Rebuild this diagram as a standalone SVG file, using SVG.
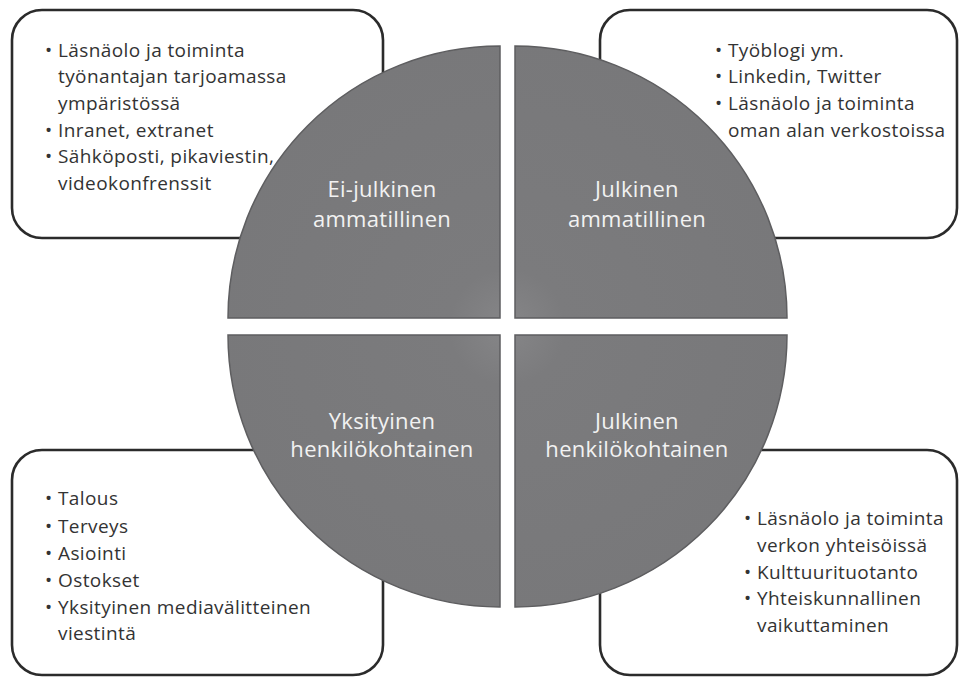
<svg xmlns="http://www.w3.org/2000/svg" width="960" height="677" viewBox="0 0 960 677">
<defs>
<style>
.box{fill:#ffffff;stroke:#2b2b2b;stroke-width:2.6}
.quad{fill:url(#qg);stroke:#5e5e60;stroke-width:1.5}
.item{font-family:"Open Sans","Noto Sans",sans-serif;font-size:19px;letter-spacing:0.4px;fill:#333333}
.lab{font-family:"Open Sans","Noto Sans",sans-serif;font-size:22px;letter-spacing:0.3px;fill:#f2f2f2;text-anchor:middle}
</style>
<radialGradient id="qg" gradientUnits="userSpaceOnUse" cx="507" cy="327" r="290">
<stop offset="0" stop-color="#868688"/>
<stop offset="0.2" stop-color="#7b7b7d"/>
<stop offset="1" stop-color="#78787a"/>
</radialGradient>
</defs>
<rect width="960" height="677" fill="#ffffff"/>
<g id="box-tl">
<rect class="box" x="12" y="10" width="371" height="228" rx="30"/>
<text class="item" x="45" y="57">•</text><text class="item" x="58" y="57">Läsnäolo ja toiminta</text>
<text class="item" x="58" y="83">työnantajan tarjoamassa</text>
<text class="item" x="58" y="110">ympäristössä</text>
<text class="item" x="45" y="137">•</text><text class="item" x="58" y="137">Inranet, extranet</text>
<text class="item" x="45" y="163">•</text><text class="item" x="58" y="163">Sähköposti, pikaviestin,</text>
<text class="item" x="58" y="190">videokonfrenssit</text>
</g>
<g id="box-tr">
<rect class="box" x="600" y="10" width="357" height="228" rx="30"/>
<text class="item" x="715" y="57">•</text><text class="item" x="728" y="57">Työblogi ym.</text>
<text class="item" x="715" y="83">•</text><text class="item" x="728" y="83">Linkedin, Twitter</text>
<text class="item" x="715" y="110">•</text><text class="item" x="728" y="110">Läsnäolo ja toiminta</text>
<text class="item" x="728" y="137">oman alan verkostoissa</text>
</g>
<g id="box-bl">
<rect class="box" x="12" y="450" width="371" height="225" rx="30"/>
<text class="item" x="45" y="505">•</text><text class="item" x="58" y="505">Talous</text>
<text class="item" x="45" y="533">•</text><text class="item" x="58" y="533">Terveys</text>
<text class="item" x="45" y="560">•</text><text class="item" x="58" y="560">Asiointi</text>
<text class="item" x="45" y="587">•</text><text class="item" x="58" y="587">Ostokset</text>
<text class="item" x="45" y="614">•</text><text class="item" x="58" y="614">Yksityinen mediavälitteinen</text>
<text class="item" x="58" y="640">viestintä</text>
</g>
<g id="box-br">
<rect class="box" x="600" y="450" width="357" height="225" rx="30"/>
<text class="item" x="744" y="525">•</text><text class="item" x="757" y="525">Läsnäolo ja toiminta</text>
<text class="item" x="757" y="552">verkon yhteisöissä</text>
<text class="item" x="744" y="579">•</text><text class="item" x="757" y="579">Kulttuurituotanto</text>
<text class="item" x="744" y="605">•</text><text class="item" x="757" y="605">Yhteiskunnallinen</text>
<text class="item" x="757" y="632">vaikuttaminen</text>
</g>
<g id="quad-tl">
<path class="quad" d="M500,318 L228,318 A272,272 0 0 1 500,46 Z"/>
<text class="lab" x="382" y="197">Ei-julkinen</text>
<text class="lab" x="382" y="227">ammatillinen</text>
</g>
<g id="quad-tr">
<path class="quad" d="M515,318 L515,46 A272,272 0 0 1 787,318 Z"/>
<text class="lab" x="637" y="197">Julkinen</text>
<text class="lab" x="637" y="227">ammatillinen</text>
</g>
<g id="quad-bl">
<path class="quad" d="M500,335 L500,607 A272,272 0 0 1 228,335 Z"/>
<text class="lab" x="382" y="429">Yksityinen</text>
<text class="lab" x="382" y="457">henkilökohtainen</text>
</g>
<g id="quad-br">
<path class="quad" d="M515,335 L787,335 A272,272 0 0 1 515,607 Z"/>
<text class="lab" x="637" y="429">Julkinen</text>
<text class="lab" x="637" y="457">henkilökohtainen</text>
</g>
</svg>
